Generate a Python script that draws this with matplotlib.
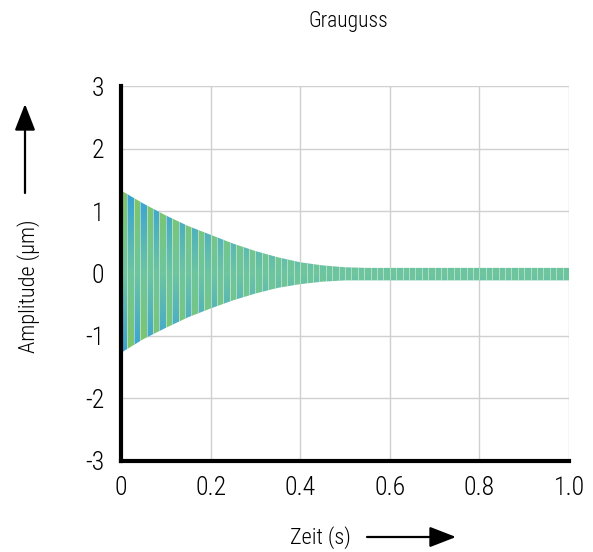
import numpy as np
import matplotlib
matplotlib.use('Agg')
import matplotlib.pyplot as plt
from matplotlib.colors import LinearSegmentedColormap

plt.rcParams['font.family'] = ['Roboto Condensed', 'Liberation Sans Narrow', 'Roboto', 'DejaVu Sans']
plt.rcParams['font.stretch'] = 'condensed'
plt.rcParams['font.weight'] = 'light'

# envelope of the decaying oscillation
t = [0.0, 0.05, 0.1, 0.15, 0.2, 0.25, 0.3, 0.35, 0.4, 0.45, 0.5, 0.55,
     0.6, 0.7, 0.8, 0.9, 1.0]
upper = [1.33, 1.12, 0.93, 0.76, 0.62, 0.48, 0.36, 0.26, 0.18, 0.13, 0.10, 0.09,
         0.09, 0.09, 0.09, 0.09, 0.09]
lower = [-1.27, -1.05, -0.87, -0.70, -0.56, -0.43, -0.32, -0.23, -0.17, -0.13, -0.11, -0.11,
         -0.11, -0.11, -0.11, -0.11, -0.11]
n_stripes = 70  # half-periods across 0..1 s

x_ticks = [0, 0.2, 0.4, 0.6, 0.8, 1.0]
x_labels = ['0', '0.2', '0.4', '0.6', '0.8', '1.0']
y_ticks = [-3, -2, -1, 0, 1, 2, 3]
y_labels = ['-3', '-2', '-1', '0', '1', '2', '3']

fig = plt.figure(figsize=(5.93, 5.52), dpi=100)
ax = fig.add_axes([0.204, 0.165, 0.7555, 0.679])

# envelope polygon, used only as a clip shape
poly = ax.fill_between(t, lower, upper, color='none', lw=0)
clip = poly.get_paths()[0]

# alternating stripes, colour follows the signed amplitude
cmap = LinearSegmentedColormap.from_list('osc', ['#37a1d6', '#6ec59f', '#7ec566'])
ys = np.linspace(-1.4, 1.4, 400)
sign = np.where(np.arange(n_stripes) % 2 == 0, 1.0, -1.0)
img = ys[:, None] * sign[None, :]
im = ax.imshow(img, extent=[0, 1, -1.4, 1.4], origin='lower', aspect='auto',
               cmap=cmap, vmin=-1.3, vmax=1.3, interpolation='nearest', zorder=2)
im.set_clip_path(clip, ax.transData)

# thin light seams between stripes
edges = np.linspace(0, 1, n_stripes + 1)[1:-1]
seams = ax.vlines(edges, -1.4, 1.4, color='white', lw=0.7, alpha=0.45, zorder=3)
seams.set_clip_path(clip, ax.transData)

ax.set_xlim(0, 1)
ax.set_ylim(-3, 3)
ax.set_xticks(x_ticks, x_labels)
ax.set_yticks(y_ticks, y_labels)
ax.grid(True, color='#d0d0d0', lw=1.0)
ax.set_axisbelow(True)
ax.tick_params(length=0, labelsize=18.5, colors='black')
ax.tick_params(axis='y', pad=12)
ax.tick_params(axis='x', pad=11)
for s in ['top', 'right']:
    ax.spines[s].set_visible(False)
for s in ['left', 'bottom']:
    ax.spines[s].set_linewidth(3)
    ax.spines[s].set_color('black')
    ax.spines[s].set_zorder(5)

# title and axis labels with arrows
fig.text(348 / 593, 1 - 22 / 552, 'Grauguss', ha='center', va='center', fontsize=15.5)
fig.text(29 / 593, 1 - 286 / 552, 'Amplitude (µm)', ha='center', va='center',
         rotation=90, fontsize=16)
fig.text(320 / 593, 1 - 538 / 552, 'Zeit (s)', ha='center', va='center', fontsize=16)
arrow = dict(arrowstyle='-|>,head_length=0.9,head_width=0.35', color='black', lw=1.6,
             mutation_scale=18, shrinkA=0, shrinkB=0)
ax.annotate('', xy=(25 / 593, 1 - 104 / 552), xytext=(25 / 593, 1 - 193 / 552),
            xycoords='figure fraction', textcoords='figure fraction', arrowprops=arrow)
ax.annotate('', xy=(456 / 593, 1 - 537 / 552), xytext=(367 / 593, 1 - 537 / 552),
            xycoords='figure fraction', textcoords='figure fraction', arrowprops=arrow)

fig.savefig('out.png', dpi=100)
